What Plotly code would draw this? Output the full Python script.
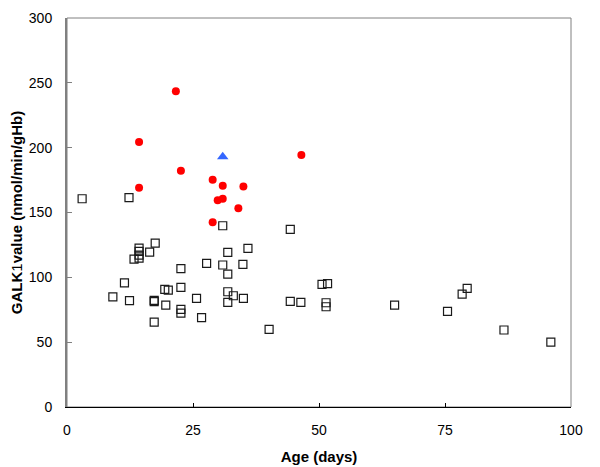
import plotly.graph_objects as go

# Control group (open squares)
ctrl_age = [3.0, 12.3, 30.9, 14.3, 14.3, 14.3, 14.3, 13.3, 16.4, 17.5,
            22.6, 27.7, 11.4, 19.4, 20.1, 22.6, 9.1, 12.4, 17.3, 17.3,
            19.6, 22.6, 22.6, 25.7, 26.7, 17.3, 44.3, 31.9, 35.9, 30.9,
            34.9, 31.9, 50.6, 51.7, 31.9, 33.0, 35.0, 31.9, 40.1, 44.3,
            46.4, 51.4, 51.4, 65.0, 75.5, 79.4, 78.4, 86.7, 96.0]
ctrl_val = [160.6, 161.4, 139.8, 122.6, 120.0, 117.2, 114.8, 114.0, 119.5, 126.4,
            106.7, 110.8, 95.8, 90.7, 90.2, 92.3, 85.0, 82.0, 82.2, 81.2,
            78.6, 75.3, 72.4, 83.8, 68.9, 65.5, 137.0, 119.3, 122.4, 109.5,
            110.0, 102.5, 94.6, 95.1, 88.9, 85.8, 83.8, 80.7, 59.9, 81.5,
            80.7, 80.4, 77.3, 78.6, 73.8, 91.5, 87.1, 59.4, 50.1]

# Patient group (red circles)
pat_age = [21.6, 14.3, 22.6, 14.3, 28.9, 30.9, 35.0, 29.9, 30.9, 34.0, 28.9, 46.5]
pat_val = [243.6, 204.3, 182.2, 169.1, 175.3, 170.6, 170.1, 159.4, 160.6, 153.2, 142.4, 194.3]

# Single case (blue triangle)
tri_age = [30.9]
tri_val = [193.0]

x_ticks = [0, 25, 50, 75, 100]
y_ticks = [0, 50, 100, 150, 200, 250, 300]

fig = go.Figure()
fig.add_trace(go.Scatter(
    x=ctrl_age, y=ctrl_val, mode="markers",
    marker=dict(symbol="square-open", size=8, color="#1a1a1a", line=dict(width=1.2)),
    showlegend=False))
fig.add_trace(go.Scatter(
    x=pat_age, y=pat_val, mode="markers",
    marker=dict(symbol="circle", size=8, color="#ff0000", line=dict(width=0)),
    showlegend=False))
fig.add_trace(go.Scatter(
    x=tri_age, y=tri_val, mode="markers",
    marker=dict(symbol="triangle-up", size=10, color="#3366ff", line=dict(width=0)),
    showlegend=False))

font = dict(family="Liberation Sans, Arial, sans-serif", size=14, color="#000")

# page body has an 8px margin, so the figure is sized/offset to compensate
fig.update_layout(
    width=592, height=459,
    margin=dict(l=59, r=29, t=10, b=60),
    paper_bgcolor="white", plot_bgcolor="white",
    font=font,
    xaxis=dict(
        range=[0, 100], tickvals=x_ticks, ticks="inside", ticklen=4,
        tickcolor="#000", showline=True, linecolor="#000", linewidth=1,
        showgrid=False, zeroline=False, ticklabelstandoff=10, automargin=False,
        title=dict(text="<b>Age (days)</b>", font=dict(size=15), standoff=14)),
    yaxis=dict(
        range=[0, 300], tickvals=y_ticks, ticks="inside", ticklen=5,
        tickcolor="#808080", showline=True, linecolor="#808080", linewidth=2,
        showgrid=False, zeroline=False, ticklabelstandoff=10, automargin=False,
        title=dict(text="<b>GALK</b>1<b>value (nmol/min/gHb)</b>",
                   font=dict(size=15), standoff=6)),
    shapes=[dict(type="rect", xref="paper", yref="paper", x0=0, x1=1, y0=0, y1=1,
                 line=dict(color="#808080", width=1), layer="below")],
)

fig.write_html("out.html")
